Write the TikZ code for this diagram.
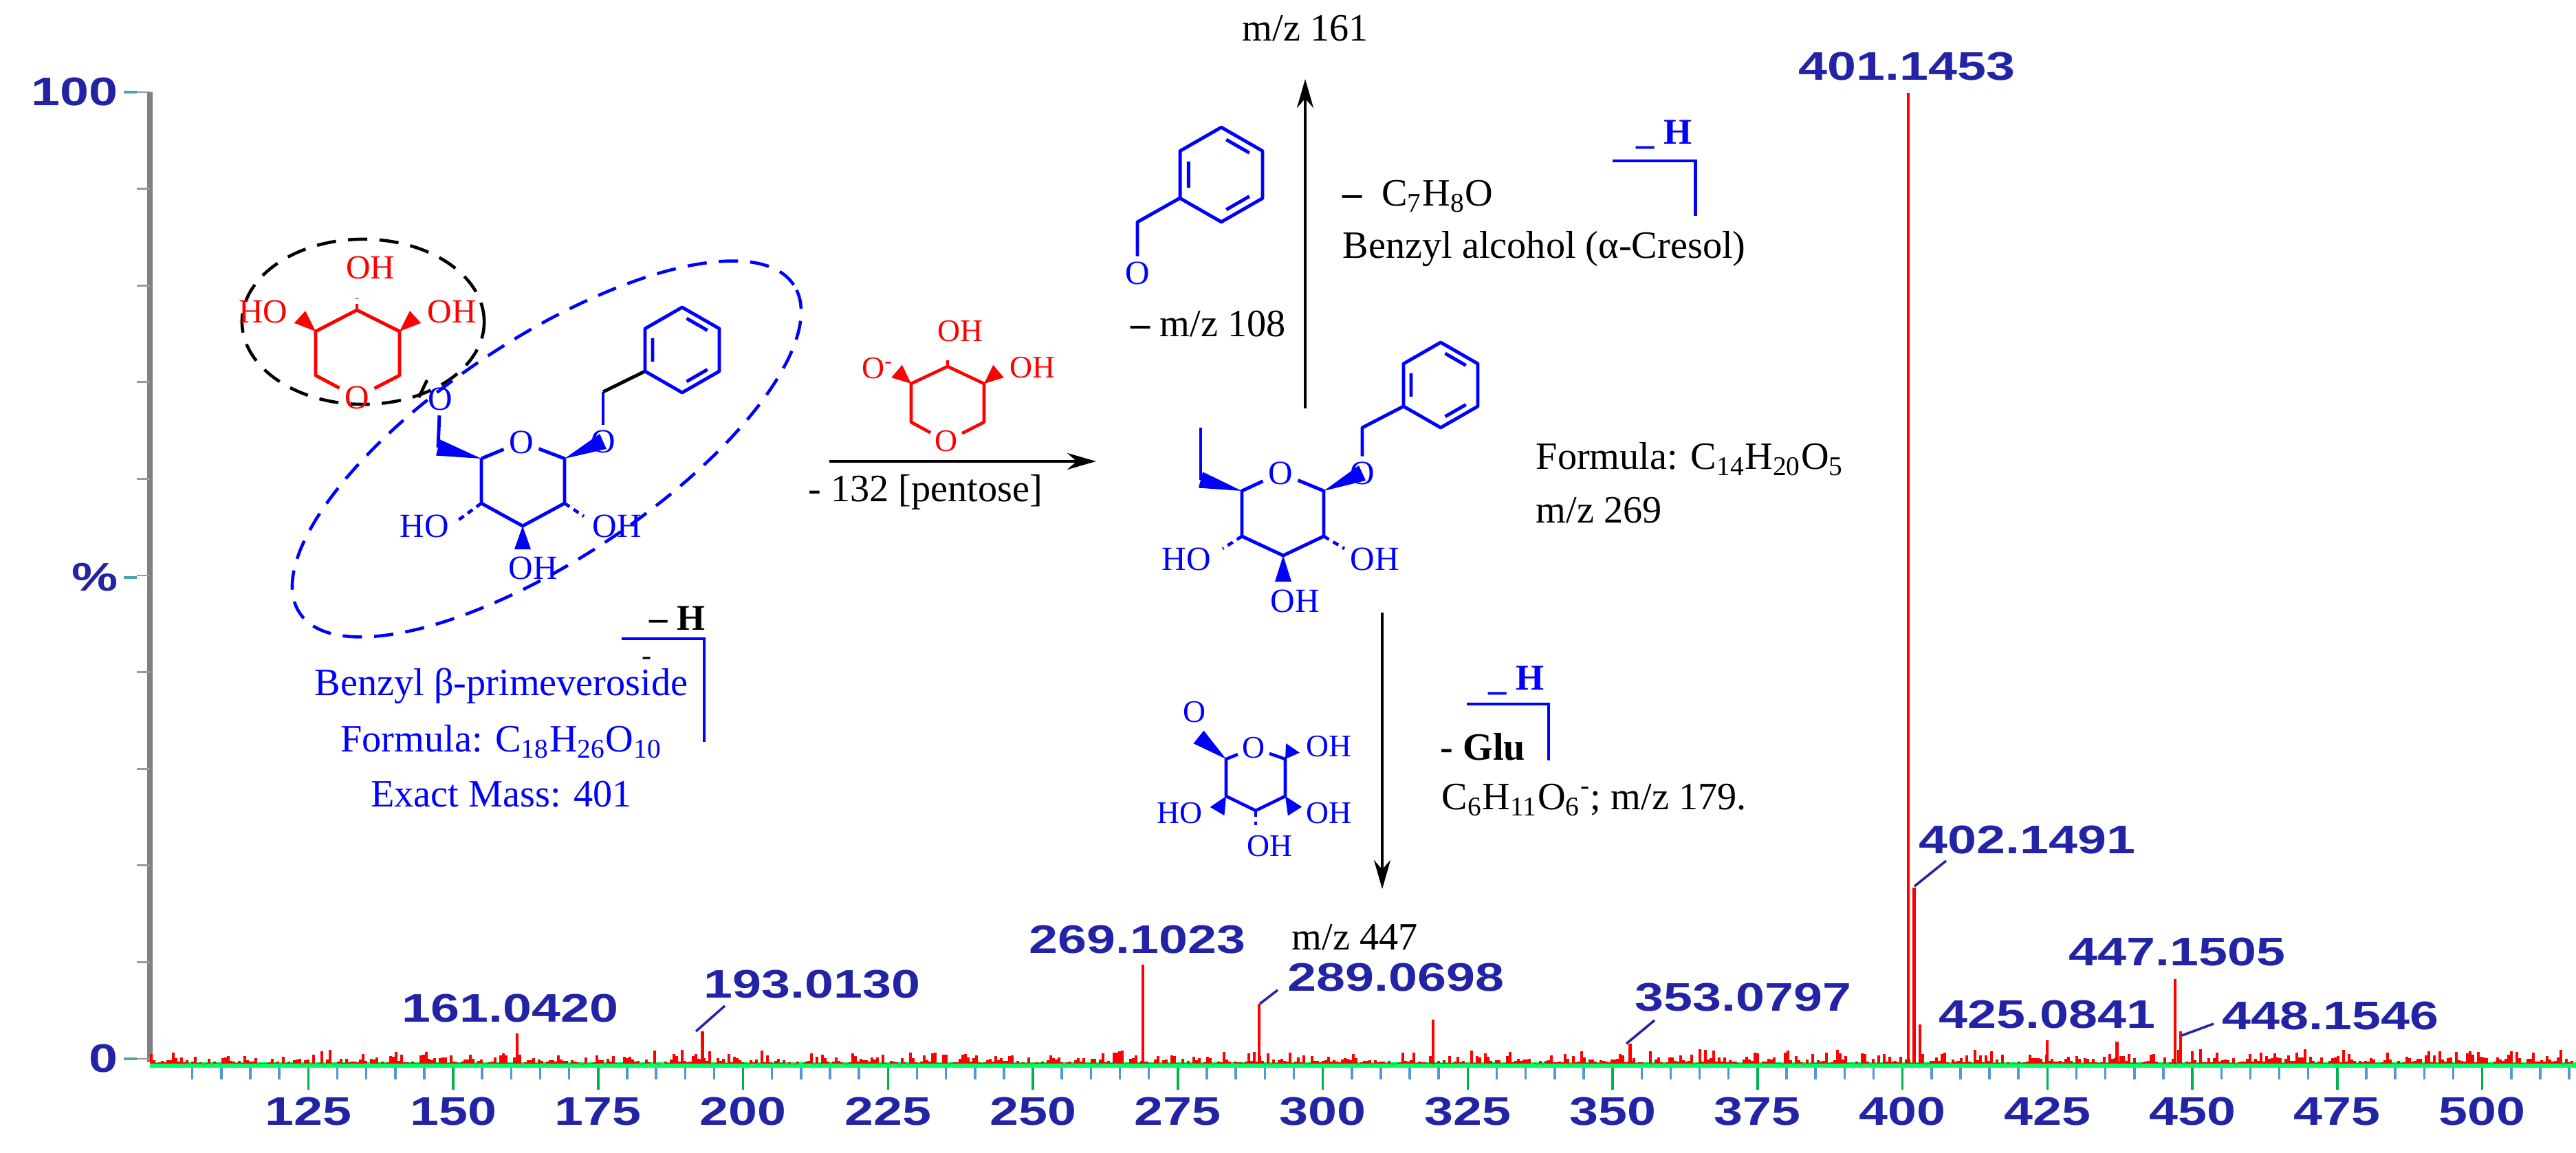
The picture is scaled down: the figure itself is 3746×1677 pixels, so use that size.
\documentclass[tikz,border=0pt]{standalone}
\usepackage{fontspec}
\setmainfont{Liberation Serif}
\newfontfamily\arialf{Liberation Sans}
\usetikzlibrary{calc,arrows.meta}
\definecolor{axb}{RGB}{35,35,165}
\newcommand\wdg[3][blue]{\fill[#1] (#2) -- ($(#3)!0.12cm!90:(#2)$) -- ($(#3)!0.12cm!-90:(#2)$) -- cycle;}
\newcommand\hsh[3][blue]{\draw[#1, line width=1.3pt, dash pattern=on 2.5pt off 2pt] (#2) -- (#3);}
\newcommand\benz[2]{\begin{scope}[shift={(#1)},scale=#2]
\draw (0,-62)--(54,-31)--(54,31)--(0,62)--(-54,31)--(-54,-31)--cycle;
\draw (-43,17)--(-43,-17) (6.5,-45.9)--(36.7,-28.5) (36.7,28.5)--(6.5,45.9);
\end{scope}}
\begin{document}
\begin{tikzpicture}[x=0.01cm,y=-0.01cm,
  bond/.style={line width=1.4pt, line join=round},
  atom/.style={font=\fontsize{14}{16}\selectfont, inner sep=1.5pt},
  satom/.style={font=\fontsize{13}{15}\selectfont, inner sep=1.2pt},
  lab/.style={font=\fontsize{16}{19}\selectfont, inner sep=0pt},
  pk/.style={font=\arialf\bfseries\fontsize{16.5}{18}\selectfont, text=axb, xscale=1.3, inner sep=0pt},
  arr/.style={line width=1.2pt, -{Stealth[length=0.42cm,width=0.24cm]}},
  brk/.style={blue, line width=1.4pt},
  peak/.style={red, line width=1.2pt},
  lead/.style={axb, line width=1pt}]
\useasboundingbox (0,0) rectangle (3746,1677);
% ---------------- axes ----------------
\draw[gray, line width=2.2pt] (218,134) -- (218,1545);
\foreach \k in {0,...,10}{\draw[gray!80, line width=0.8pt] (199,{134+\k*140.6}) -- (218,{134+\k*140.6});}
\node[pk, anchor=east] (y100) at (172,134) {100};
\node[pk, anchor=east] (ypc) at (172,840) {\%};
\node[pk, anchor=east] (y0) at (172,1540) {0};
\draw[teal!70, line width=1pt] (180,134)--(199,134) (180,840)--(199,840) (180,1540)--(199,1540);
\draw[green!60!cyan, line width=2pt] (218,1549) -- (3746,1549);
\foreach \m in {105,110,...,515}{\draw[cyan!70!magenta, line width=1pt] ({2775+(\m-401)*8.43},1553) -- ({2775+(\m-401)*8.43},1570);}
\foreach \m in {125,150,...,500}{\draw[teal!60!green, line width=1pt] ({2775+(\m-401)*8.43},1553) -- ({2775+(\m-401)*8.43},1585);
  \node[pk] (t\m) at ({2775+(\m-401)*8.43},1617) {\m};}
\pgfmathsetseed{11}
\foreach \i in {0,...,880}{\pgfmathsetmacro\hh{rnd*rnd*22}
  \draw[red, line width=0.9pt] ({220+\i*4},1547) -- ({220+\i*4},{1547-\hh});}
% peaks
\foreach \m/\t in {161/1503,193/1500,269/1403,289/1460,319/1483,353/1518,401/135,402/1291,403/1490,425/1513,437/1515,447/1424,448/1500}{
  \draw[peak] ({2775+(\m-401)*8.43},1547) -- ({2775+(\m-401)*8.43},\t);}
\node[pk] (l161) at (742,1467) {161.0420};
\node[pk] (l193) at (1181,1432) {193.0130};
\node[pk] (l269) at (1654,1367) {269.1023};
\node[pk] (l289) at (2030,1422) {289.0698};
\node[pk] (l353) at (2535,1451) {353.0797};
\node[pk] (l401) at (2773,97) {401.1453};
\node[pk] (l402) at (2948,1222) {402.1491};
\node[pk] (l425) at (2977,1476) {425.0841};
\node[pk] (l447) at (3166,1385) {447.1505};
\node[pk] (l448) at (3389,1478) {448.1546};
\coordinate (e193a) at (1054,1463); \coordinate (e193b) at (1012,1500);
\coordinate (e289a) at (1858,1440); \coordinate (e289b) at (1832,1460);
\coordinate (e353a) at (2406,1484); \coordinate (e353b) at (2365,1518);
\coordinate (e402a) at (2830,1252); \coordinate (e402b) at (2784,1289);
\coordinate (e448a) at (3219,1489); \coordinate (e448b) at (3173,1506);
\draw[lead] (e193a)--(e193b) (e289a)--(e289b) (e353a)--(e353b) (e402a)--(e402b) (e448a)--(e448b);
% ---------------- left molecule ----------------
\draw[black, dash pattern=on 8pt off 5pt, line width=1.3pt] (528,468) ellipse [x radius=1.76cm, y radius=1.2cm];
\draw[blue, dash pattern=on 8pt off 5pt, line width=1.3pt, rotate around={33.6:(795,653)}] (795,653) ellipse [x radius=4.31cm, y radius=1.6cm];
\begin{scope}[bond, red]
\coordinate (p1) at (459,482); \coordinate (p2) at (519,451); \coordinate (p3) at (581,482);
\coordinate (p4) at (581,546); \coordinate (p6) at (459,546);
\node[atom, text=red] (pO) at (519,578) {O};
\draw (pO)--(p6)--(p1)--(p2)--(p3)--(p4)--(pO);
\wdg[red]{p1}{436,461} \wdg[red]{p3}{604,461}
\hsh[red]{p2}{519,434}
\node[atom, text=red] (pHO) at (383,453) {HO};
\node[atom, text=red] (pOHt) at (539,389) {OH};
\node[atom, text=red] (pOHr) at (657,453) {OH};
\end{scope}
\coordinate (lk1) at (609,578); \coordinate (lk2) at (621,553);
\draw[black, line width=1.3pt] (lk1)--(lk2);
\begin{scope}[bond, blue]
\coordinate (g5) at (700,667); \coordinate (g1) at (821,667); \coordinate (g2) at (821,732);
\coordinate (g3) at (760,765); \coordinate (g4) at (700,732); \coordinate (g6) at (637,651);
\node[atom, text=blue] (gO) at (758,643) {O};
\node[atom, text=blue] (gO6) at (640,580) {O};
\node[atom, text=blue] (gOg) at (877,642) {O};
\coordinate (g7) at (877,570);
\draw (gO)--(g5) (g5)--(g4)--(g3)--(g2)--(g1)--(gO);
\wdg{g5}{g6} \draw (g6)--(gO6);
\wdg{g1}{gOg}
\draw (gOg)--(g7);
\draw[black] (g7)--(938,540);
\benz{992,509}{1}
\hsh{g4}{663,759} \hsh{g2}{849,751} \wdg{g3}{760,799}
\node[atom, text=blue] (gHO) at (617,765) {HO};
\node[atom, text=blue] (gOHr) at (897,765) {OH};
\node[atom, text=blue] (gOHb) at (775,826) {OH};
\end{scope}
\node[lab, text=blue] (nm1) at (729,998) {Benzyl β-primeveroside};
\node[lab, text=blue] (nm2) at (729,1079) {Formula: C\textsubscript{18}H\textsubscript{26}O\textsubscript{10}};
\node[lab, text=blue] (nm3) at (729,1155) {Exact Mass: 401};
\node[font=\bfseries\fontsize{15}{16}\selectfont, inner sep=0pt] (bh3) at (985,899) {– H};
\node[font=\fontsize{12}{12}\selectfont, inner sep=0pt] (bm3) at (941,962) {-};
\coordinate (k3a) at (904,929); \coordinate (k3b) at (1024,929); \coordinate (k3c) at (1024,1079);
\draw[brk] (k3a)--(k3b)--(k3c);
% ---------------- pentose loss ----------------
\begin{scope}[bond, red, line width=1.3pt]
\coordinate (q1) at (1325,558); \coordinate (q2) at (1378,533); \coordinate (q3) at (1431,558);
\coordinate (q4) at (1431,614); \coordinate (q6) at (1325,614);
\node[satom, text=red] (qO) at (1376,642) {O};
\draw (qO)--(q6)--(q1)--(q2)--(q3)--(q4)--(qO);
\wdg[red]{q1}{1304,540} \wdg[red]{q3}{1452,540}
\hsh[red]{q2}{1378,518}
\node[satom, text=red] (qOm) at (1276,536) {O\textsuperscript{-}};
\node[satom, text=red] (qOHt) at (1396,482) {OH};
\node[satom, text=red] (qOHr) at (1501,535) {OH};
\end{scope}
\coordinate (ha) at (1206,671); \coordinate (hb) at (1594,671);
\draw[arr] (ha)--(hb);
\node[lab] (pent) at (1346,716) {- 132 [pentose]};
% ---------------- middle molecule ----------------
\begin{scope}[bond, blue]
\coordinate (m5) at (1806,714); \coordinate (m1) at (1925,714); \coordinate (m2) at (1925,780);
\coordinate (m3) at (1866,808); \coordinate (m4) at (1806,780); \coordinate (m6) at (1746,698);
\coordinate (m6t) at (1746,622);
\node[atom, text=blue] (mO) at (1862,688) {O};
\node[atom, text=blue] (mOg) at (1981,688) {O};
\coordinate (m7) at (1981,622);
\draw (mO)--(m5)--(m4)--(m3)--(m2)--(m1)--(mO);
\wdg{m5}{m6} \draw (m6)--(m6t);
\wdg{m1}{mOg} \draw (mOg)--(m7)--(2041,591);
\benz{2095,560}{1}
\hsh{m4}{1778,798} \hsh{m2}{1955,798} \wdg{m3}{1866,846}
\node[atom, text=blue] (mHO) at (1725,813) {HO};
\node[atom, text=blue] (mOHr) at (1999,813) {OH};
\node[atom, text=blue] (mOHb) at (1883,874) {OH};
% benzyloxy fragment
\benz{1776,254}{1.11}
\coordinate (f7) at (1654,323);
\node[atom, text=blue] (fO) at (1654,397) {O};
\draw (1716,288)--(f7)--(fO);
\end{scope}
\node[lab, anchor=west] (f1) at (2233,668) {Formula: C\textsubscript{14}H\textsubscript{20}O\textsubscript{5}};
\node[lab, anchor=west] (f2) at (2233,742) {m/z 269};
% up arrow
\coordinate (ua) at (1898,594); \coordinate (ub) at (1898,115);
\draw[arr] (ua)--(ub);
\node[lab] (z161) at (1898,41) {m/z 161};
\node[lab] (z108) at (1757,471) {\textbf{–} m/z 108};
\node[lab, anchor=west] (c7) at (1952,286) {\textbf{–}\ \ C\textsubscript{7}H\textsubscript{8}O};
\node[lab, anchor=west] (ba) at (1952,362) {Benzyl alcohol (α-Cresol)};
\node[font=\bfseries\fontsize{15}{16}\selectfont, text=blue, inner sep=0pt] (bh1) at (2420,196) {\_ H};
\coordinate (k1a) at (2345,234); \coordinate (k1b) at (2465,234); \coordinate (k1c) at (2465,314);
\draw[brk] (k1a)--(k1b)--(k1c);
% down arrow
\coordinate (da) at (2010,891); \coordinate (db) at (2010,1293);
\draw[arr] (da)--(db);
\node[lab] (z447) at (1970,1363) {m/z 447};
\node[font=\bfseries\fontsize{16}{18}\selectfont, anchor=west, inner sep=0pt] (glu) at (2094,1086) {- Glu};
\node[lab, anchor=west] (c6) at (2096,1164) {C\textsubscript{6}H\textsubscript{11}O\textsubscript{6}\textsuperscript{-}; m/z 179.};
\node[font=\bfseries\fontsize{15}{16}\selectfont, text=blue, inner sep=0pt] (bh2) at (2205,990) {\_ H};
\coordinate (k2a) at (2133,1024); \coordinate (k2b) at (2252,1024); \coordinate (k2c) at (2252,1106);
\draw[brk] (k2a)--(k2b)--(k2c);
% glucuronide
\begin{scope}[bond, blue, line width=1.3pt]
\coordinate (u5) at (1783,1104); \coordinate (u1) at (1869,1104); \coordinate (u2) at (1869,1158);
\coordinate (u3) at (1826,1179); \coordinate (u4) at (1783,1158);
\node[satom, text=blue] (uO) at (1823,1088) {O};
\draw (uO)--(u5)--(u4)--(u3)--(u2)--(u1)--(uO);
\wdg{u5}{1743,1072} \wdg{u1}{1880,1088} \wdg{u4}{1770,1180} \wdg{u2}{1883,1180}
\hsh{u3}{1826,1200}
\node[satom, text=blue] (uOt) at (1737,1036) {O};
\node[satom, text=blue] (uOH1) at (1932,1086) {OH};
\node[satom, text=blue] (uHO) at (1715,1183) {HO};
\node[satom, text=blue] (uOH2) at (1932,1183) {OH};
\node[satom, text=blue] (uOH3) at (1846,1231) {OH};
\end{scope}
\end{tikzpicture}
\end{document}
